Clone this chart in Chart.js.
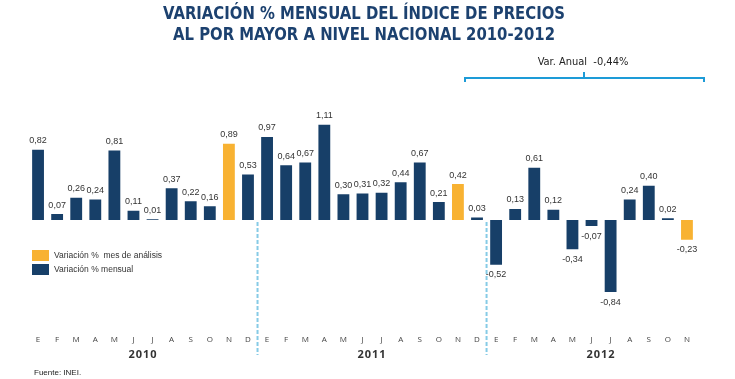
<!DOCTYPE html>
<html>
<head>
<meta charset="utf-8">
<script src="https://cdn.jsdelivr.net/npm/chart.js@4/dist/chart.umd.min.js"></script>
<style>
html,body{margin:0;padding:0;background:#fff;}
#c{display:block;}
</style>
</head>
<body>
<canvas id="c" width="735" height="379"></canvas>
<script>
// ---- data ----
const years = ['2010', '2011', '2012'];
const months = ['E','F','M','A','M','J','J','A','S','O','N','D'];
const values2010 = [0.82, 0.07, 0.26, 0.24, 0.81, 0.11, 0.01, 0.37, 0.22, 0.16, 0.89, 0.53];
const values2011 = [0.97, 0.64, 0.67, 1.11, 0.30, 0.31, 0.32, 0.44, 0.67, 0.21, 0.42, 0.03];
const values2012 = [-0.52, 0.13, 0.61, 0.12, -0.34, -0.07, -0.84, 0.24, 0.40, 0.02, -0.23];
const analysisMonth = 'N';          // highlighted month each year
const titleLines = ['VARIACIÓN % MENSUAL DEL ÍNDICE DE PRECIOS', 'AL POR MAYOR A NIVEL NACIONAL 2010-2012'];
const legendLabels = ['Variación %  mes de análisis', 'Variación % mensual'];
const annualLabel = 'Var. Anual  -0,44%';
const sourceText = 'Fuente: INEI.';

const seriesByYear = [values2010, values2011, values2012];
const labels = [], values = [], yearOf = [], isHighlight = [];
seriesByYear.forEach((arr, yi) => {
  arr.forEach((v, mi) => {
    labels.push(months[mi]);
    values.push(v);
    yearOf.push(yi);
    isHighlight.push(mi === 10);
  });
});

const DARK = '#173f68';
const ORANGE = '#f8b232';
const CYAN = '#1d9bd7';

const overlay = {
  id: 'overlay',
  afterDatasetsDraw(chart) {
    const ctx = chart.ctx;
    const x = chart.scales.x, y = chart.scales.y;
    const meta = chart.getDatasetMeta(0);
    ctx.save();
    // value labels
    ctx.font = '9px "Liberation Sans", Arial, sans-serif';
    ctx.fillStyle = '#333';
    ctx.textAlign = 'center';
    ctx.textBaseline = 'middle';
    meta.data.forEach((bar, i) => {
      const v = values[i];
      const txt = v.toFixed(2).replace('.', ',');
      const ty = v >= 0 ? bar.y - 9 : bar.y + 10;
      ctx.fillText(txt, bar.x, ty);
    });
    // month letters
    ctx.font = '8px "Open Sans", sans-serif';
    ctx.fillStyle = '#444';
    labels.forEach((m, i) => {
      ctx.fillText(m, x.getPixelForValue(i), 340);
    });
    // year labels
    ctx.font = 'bold 11px "Open Sans", sans-serif';
    ctx.fillStyle = '#333';
    years.forEach((yr, yi) => {
      const idx = [];
      yearOf.forEach((o, i) => { if (o === yi) idx.push(i); });
      let cx;
      if (yi < 2) cx = (x.getPixelForValue(idx[0]) + x.getPixelForValue(idx[idx.length - 1])) / 2;
      else cx = (x.getPixelForValue(idx[0]) + x.getPixelForValue(idx[0] + 11)) / 2;
      ctx.save();
      if (ctx.letterSpacing !== undefined) ctx.letterSpacing = '1px';
      ctx.fillText(yr, cx, 355);
      ctx.restore();
    });
    // dashed separators between years
    ctx.strokeStyle = '#86cbe6';
    ctx.lineWidth = 2;
    ctx.setLineDash([4, 2]);
    [12, 24].forEach(i => {
      const sx = (x.getPixelForValue(i - 1) + x.getPixelForValue(i)) / 2;
      ctx.beginPath();
      ctx.moveTo(sx, y.getPixelForValue(0) + 2);
      ctx.lineTo(sx, 355);
      ctx.stroke();
    });
    ctx.setLineDash([]);
    // bracket for 2012
    const bl = 465, br = 704, by = 78;
    ctx.strokeStyle = CYAN;
    ctx.lineWidth = 2;
    ctx.beginPath();
    ctx.moveTo(bl, by + 4); ctx.lineTo(bl, by); ctx.lineTo(br, by); ctx.lineTo(br, by + 4);
    ctx.moveTo(584, by); ctx.lineTo(584, by - 6);
    ctx.stroke();
    ctx.font = '11px "Liberation Sans Narrow", "DejaVu Sans Condensed", "Liberation Sans", sans-serif';
    ctx.fillStyle = '#222';
    ctx.fillText(annualLabel, 583, 62);
    // title
    ctx.fillStyle = '#1c416f';
    ctx.font = 'bold 18px "DejaVu Sans Condensed", "Liberation Sans Narrow", sans-serif';
    const targets = [[364, 14, 402], [364, 35, 382]];
    titleLines.forEach((t, i) => {
      const [cx, cy, w] = targets[i];
      const mw = ctx.measureText(t).width;
      ctx.save();
      ctx.translate(cx, cy);
      ctx.scale(w / mw, 1);
      ctx.fillText(t, 0, 0);
      ctx.restore();
    });
    // legend
    ctx.fillStyle = ORANGE;
    ctx.fillRect(32, 250, 17, 11);
    ctx.fillStyle = DARK;
    ctx.fillRect(32, 264, 17, 11);
    ctx.font = '8.5px "Liberation Sans", Arial, sans-serif';
    ctx.fillStyle = '#333';
    ctx.textAlign = 'left';
    ctx.fillText(legendLabels[0], 54, 256);
    ctx.fillText(legendLabels[1], 54, 270);
    // source
    ctx.font = '8px "Liberation Sans", Arial, sans-serif';
    ctx.fillStyle = '#222';
    ctx.fillText(sourceText, 34, 373);
    ctx.restore();
  }
};

new Chart(document.getElementById('c'), {
  type: 'bar',
  data: {
    labels: labels,
    datasets: [{
      data: values,
      backgroundColor: isHighlight.map(h => h ? ORANGE : DARK),
      borderWidth: 0,
      barPercentage: 0.62,
      categoryPercentage: 1.0
    }]
  },
  options: {
    responsive: false,
    devicePixelRatio: 1,
    animation: false,
    layout: { padding: { left: 28.5, right: 38.5, top: 100, bottom: 56 } },
    plugins: { legend: { display: false }, tooltip: { enabled: false }, title: { display: false } },
    scales: {
      x: { display: false },
      y: { display: false, min: -1.2, max: 1.4 }
    }
  },
  plugins: [overlay]
});
</script>
</body>
</html>
